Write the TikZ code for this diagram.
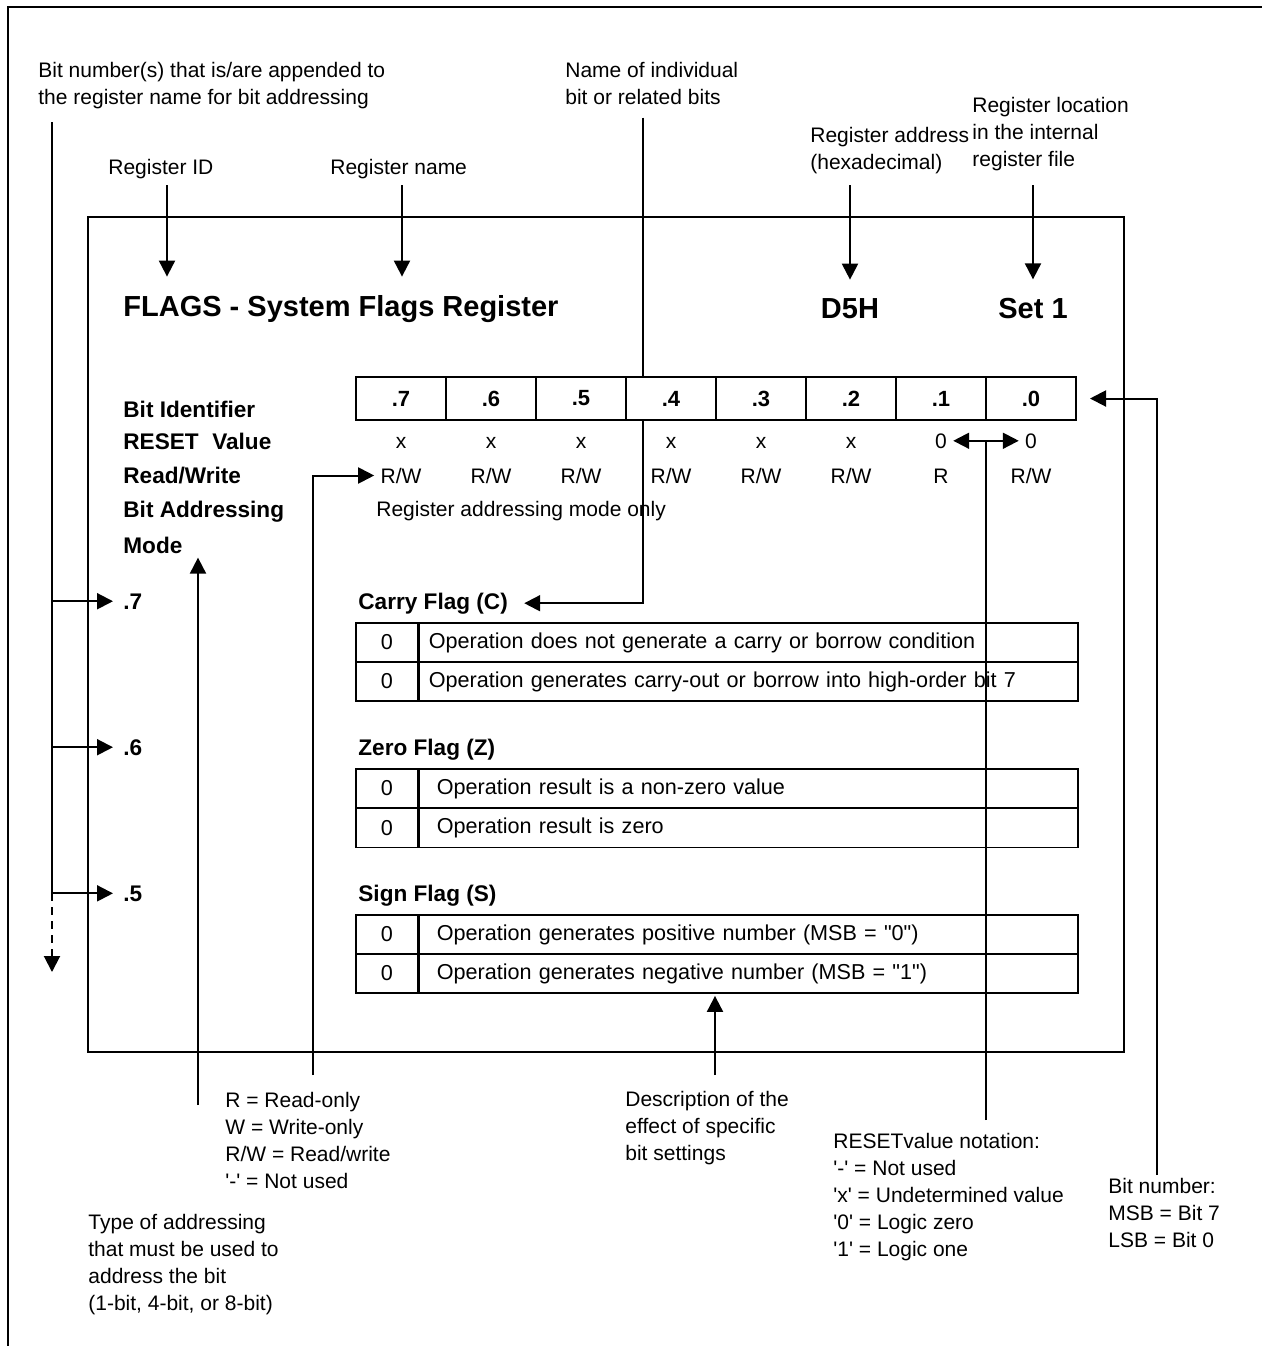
\documentclass[tikz,border=0pt]{standalone}
\usepackage{fontspec}
\setmainfont{Liberation Sans}
\usetikzlibrary{positioning, arrows.meta, calc}

\begin{document}
\begin{tikzpicture}[x=0.5pt, y=-0.5pt,
        txt/.style={anchor=base west, inner sep=0pt, align=left, font=\fontsize{10.5}{13.5}\selectfont},
        lab/.style={txt, font=\fontsize{11.3}{13.5}\selectfont\bfseries},
        big/.style={anchor=base, inner sep=0pt, font=\fontsize{14.5}{16}\selectfont\bfseries},
        bitcell/.style={draw, line width=1pt, minimum width=45pt, minimum height=21.5pt, inner sep=0pt, font=\fontsize{11}{13}\selectfont\bfseries},
        val/.style={anchor=base, inner sep=0pt, font=\fontsize{10.5}{13}\selectfont},
        numcell/.style={draw, line width=0.9pt, minimum width=31pt, minimum height=19.5pt, inner sep=0pt, font=\fontsize{10.8}{13}\selectfont},
        desc/.style={draw, line width=0.9pt, anchor=west, minimum height=19.5pt, inner ysep=0pt, inner xsep=5pt, text width=319.5pt, align=left, font=\fontsize{10.8}{13}\selectfont},
        descw/.style={desc, inner xsep=9pt, text width=311.5pt},
        ptr/.style={line width=1pt, -{Triangle[length=8pt, width=8pt]}},
        wire/.style={line width=1pt},
    ]
    \useasboundingbox (0,0) rectangle (1262,1346);
    % outer frame
    \draw[line width=1pt] (1270,7) -| (8,1352);

    % callouts above (placed at the baseline of their last line)
    \node[txt] (bitnum) at (38,104) {Bit number(s) that is/are appended to\\the register name for bit addressing};
    \node[txt] (bitname) at (565,104) {Name of individual\\bit or related bits};
    \node[txt] (regloc) at (972,166) {Register location\\in the internal\\register file};
    \node[txt] (regaddr) at (810,169) {Register address\\(hexadecimal)};
    \node[txt] (regid) at (108,174) {Register ID};
    \node[txt] (regname) at (330,174) {Register name};

    % register box
    \node[draw, line width=1pt, anchor=north west, minimum width=518pt, minimum height=417.5pt] (regbox) at (87,216) {};
    \node[big, anchor=base west] (title) at (123,316) {FLAGS - System Flags Register};
    \node[big] (addr) at (850,318) {D5H};
    \node[big] (set) at (1033,318) {Set 1};

    % bit table
    \foreach \b [count=\i from 0] in {7,6,...,0}
        \node[bitcell] (b\b) at ({401+90*\i},398.5) {.\b};

    % row labels
    \node[lab] (lid) at (123,417) {Bit Identifier};
    \node[lab] (lrst) at (123,449) {RESET\hspace{0.6em}Value};
    \node[lab] (lrw) at (123,483) {Read/Write};
    \node[lab] (lba) at (123,517) {Bit Addressing};
    \node[lab] (lmode) at (123,553) {Mode};

    \foreach \b/\v in {7/x,6/x,5/x,4/x,3/x,2/x,1/0,0/0}
        \node[val] (v\b) at (b\b.center |- 0,448) {\v};
    \foreach \b/\v in {7/{R/W},6/{R/W},5/{R/W},4/{R/W},3/{R/W},2/{R/W},1/R,0/{R/W}}
        \node[val] (r\b) at (b\b.center |- 0,483) {\v};
    \node[txt] (ramo) at (376,516) {Register addressing mode only};

    % flag bits
    \node[lab] (f7) at (123,609) {.7};
    \node[lab] (f6) at (123,755) {.6};
    \node[lab] (f5) at (123,901) {.5};
    \node[lab] (cf) at (358,609) {Carry Flag (C)};
    \node[lab] (zf) at (358,755) {Zero Flag (Z)};
    \node[lab] (sf) at (358,901) {Sign Flag (S)};

    \node[numcell] (c0) at (387,642.5) {0}; \node[desc] (cd0) at (418,642.5) {Operation does not generate a carry or borrow condition};
    \node[numcell] (c1) at (387,681.5) {0}; \node[desc] (cd1) at (418,681.5) {Operation generates carry-out or borrow into high-order bit 7};
    \node[numcell] (z0) at (387,788.5) {0}; \node[descw] (zd0) at (418,788.5) {Operation result is a non-zero value};
    \node[numcell] (z1) at (387,828) {0}; \node[descw] (zd1) at (418,828) {Operation result is zero};
    \node[numcell] (s0) at (387,934.5) {0}; \node[descw] (sd0) at (418,934.5) {Operation generates positive number (MSB = \textquotedbl0\textquotedbl)};
    \node[numcell] (s1) at (387,973.5) {0}; \node[descw] (sd1) at (418,973.5) {Operation generates negative number (MSB = \textquotedbl1\textquotedbl)};

    % callouts below (placed at the baseline of their last line)
    \node[txt] (rwnote) at (225,1188) {R = Read-only\\W = Write-only\\R/W = Read/write\\\textquotesingle-\textquotesingle{} = Not used};
    \node[txt] (typenote) at (88,1310) {Type of addressing\\that must be used to\\address the bit\\(1-bit, 4-bit, or 8-bit)};
    \node[txt] (descnote) at (625,1160) {Description of the\\effect of specific\\bit settings};
    \node[txt] (rstnote) at (833,1256) {RESETvalue notation:\\\textquotesingle-\textquotesingle{} = Not used\\\textquotesingle x\textquotesingle{} = Undetermined value\\\textquotesingle 0\textquotesingle{} = Logic zero\\\textquotesingle 1\textquotesingle{} = Logic one};
    \node[txt] (bitnote) at (1108,1247) {Bit number:\\MSB = Bit 7\\LSB = Bit 0};

    % pointer lines
    \coordinate (bnx) at (52,0);
    \coordinate (bnend) at (52,972);
    \coordinate (idx) at (167,0);
    \coordinate (nmx) at (402,0);
    \coordinate (bitx) at (643,0);
    \coordinate (modefoot) at (198,1105);
    \coordinate (rwfoot) at (313,1075);
    \coordinate (dsfoot) at (715,1075);
    \coordinate (rsfoot) at (986,1120);
    \coordinate (bnfoot) at (1157,1175);

    \draw[ptr] ([yshift=-3.3pt]regid.south -| idx) -- ([yshift=9pt]title.north -| idx);
    \draw[ptr] ([yshift=-3.3pt]regname.south -| nmx) -- ([yshift=9pt]title.north -| nmx);
    \draw[ptr] ([yshift=-5.8pt]regaddr.south -| addr) -- ([yshift=9pt]addr.north);
    \draw[ptr] ([yshift=-7.3pt]regloc.south -| set) -- ([yshift=9pt]set.north);

    \draw[wire] ([yshift=-6.8pt]bitnum.south -| bnx) -- (bnx |- f5.west);
    \draw[ptr, dash pattern=on 4pt off 3pt] (bnx |- f5.west) -- (bnend);
    \foreach \f in {f7,f6,f5}
        \draw[ptr] (bnx |- \f.west) -- ([xshift=-5pt]\f.west);

    \draw[wire] ([yshift=-6.5pt]bitname.south -| bitx) -- (b4.north -| bitx);
    \draw[ptr] (b4.south -| bitx) |- ([xshift=8pt]cf.east);

    \draw[ptr] (modefoot) -- ([yshift=-2pt]lmode.south -| modefoot);
    \draw[ptr] (rwfoot) |- ([xshift=-3pt]r7.west);
    \draw[ptr] (dsfoot) -- ([yshift=-1pt]sd1.south -| dsfoot);

    \draw[wire] (rsfoot) -- (rsfoot |- v1.east);
    \draw[ptr] (rsfoot |- v1.east) -- ([xshift=3pt]v1.east);
    \draw[ptr] (rsfoot |- v1.east) -- ([xshift=-3pt]v0.west);

    \draw[ptr] (bnfoot) |- ([xshift=6.5pt]b0.east);
\end{tikzpicture}
\end{document}
